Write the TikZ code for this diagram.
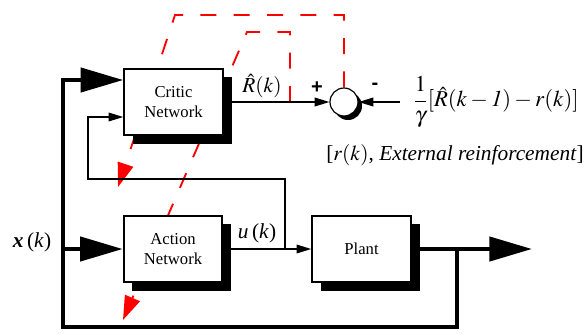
\documentclass[tikz,border=0pt]{standalone}
\usepackage{mathptmx}
\usepackage[no-math]{fontspec}
\setmainfont{Liberation Serif}
\setsansfont{Liberation Sans}
\usetikzlibrary{arrows.meta, backgrounds, shadows, calc}

\begin{document}
\begin{tikzpicture}[x=0.75pt, y=-0.75pt,
  net/.style={draw, line width=1.4pt, fill=white, minimum width=74pt, minimum height=50pt,
    align=center, font=\fontsize{12.5}{15}\selectfont,
    drop shadow={shadow xshift=6.5pt, shadow yshift=-6.5pt, opacity=1, fill=black}},
  sum/.style={circle, draw, line width=0.9pt, fill=white, minimum size=21pt, inner sep=0pt,
    drop shadow={shadow xshift=3pt, shadow yshift=-3pt, opacity=1, fill=black}},
  mathlbl/.style={inner sep=1pt, font=\fontsize{16}{19}\selectfont},
  sign/.style={inner sep=1pt, font=\sffamily\bfseries\fontsize{15}{18}\selectfont},
  thinarrow/.style={line width=1pt, -{Triangle[length=11pt, width=6.5pt]}},
  bigarrow/.style={line width=3.3pt, -{Triangle[length=32pt, width=18pt]}},
  adapt/.style={red, line width=1.4pt, dash pattern=on 12pt off 13pt,
    -{Triangle[length=18pt, width=12pt]}}]
  \useasboundingbox (0,0) rectangle (585,333);

  % blocks
  \node[net] (critic) at (173.5,102) {Critic\\Network};
  \node[net] (action) at (173,249) {Action\\Network};
  \node[net] (plant) at (361.5,249) {Plant};
  \node[sum] (sum) at (344,102) {};

  % labels
  \node[mathlbl] (Rhat) at (262,86) {$\hat{R}(k)$};
  \node[sign] (plus) at (317,88) {+};
  \node[sign] (minus) at (375,86) {-};
  \node[mathlbl, font=\fontsize{17}{20}\selectfont] (target) at (496,102)
    {${\displaystyle\frac{1}{\gamma}}[\hat{R}(k-\mathit{1})-r(k)]$};
  \node[mathlbl] (ext) at (455,155) {[$r(k)$, \textit{External reinforcement}]};
  \node[mathlbl] (ulab) at (257,233) {\textit{u}\,(\textit{k})};
  \node[mathlbl] (xlab) at (32,242) {\textbf{\textit{x}}\,(\textit{k})};

  % points on the lines
  \coordinate (rIn) at (400,102);
  \coordinate (rTap) at (290,102);
  \coordinate (uTap) at (285,249);
  \coordinate (fbCorner) at (88,179);
  \coordinate (outTap) at (457,249);
  \coordinate (out) at (532,249);
  \coordinate (xBottom) at (63,327);
  \coordinate (xJoin) at (63,249);
  \coordinate (outerCorner) at (175,15);
  \coordinate (innerCorner) at (247,32);
  \coordinate (criticTip) at (118,187);
  \coordinate (actionTip) at (123,320);

  % signals
  \draw[thinarrow] (critic) -- (sum);
  \draw[thinarrow] (rIn) -- (sum.east);
  \draw[thinarrow] (action) -- (plant);
  \draw[thinarrow] (uTap) |- (fbCorner) |- ($(critic.west)+(0,15)$);
  \draw[bigarrow] (plant) -- (out);
  \draw[bigarrow] (outTap) |- (xBottom) |- ($(critic.west)+(0,-22)$);
  \draw[bigarrow] (xJoin) -- (action);

  % weight updates
  \begin{scope}[on background layer]
    \draw[adapt] (sum.north) |- (outerCorner) -- (criticTip);
    \draw[adapt] (rTap) |- (innerCorner) -- (actionTip);
  \end{scope}
\end{tikzpicture}
\end{document}
